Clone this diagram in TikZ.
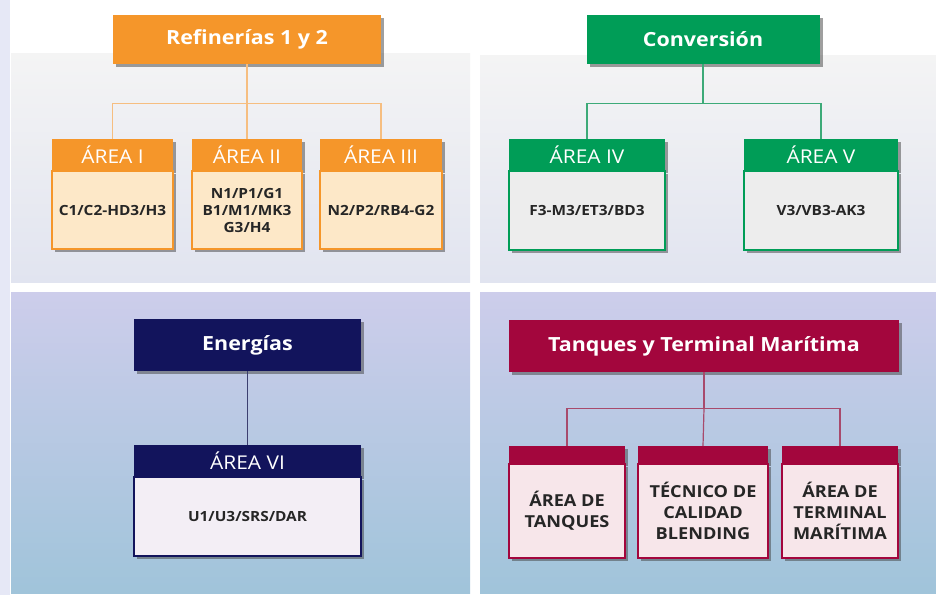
\documentclass[tikz,border=0pt]{standalone}
\usepackage{fontspec}
\setmainfont{Open Sans}[FakeStretch=1.1]
\usetikzlibrary{shadows}
\definecolor{stripfill}{HTML}{E6E8F6}
\definecolor{uppertop}{HTML}{F4F4F4}
\definecolor{upperbot}{HTML}{E1E4F0}
\definecolor{lowertop}{HTML}{CDCDEB}
\definecolor{lowerbot}{HTML}{A0C4DA}
\definecolor{refmain}{HTML}{F5962A}
\definecolor{refbody}{HTML}{FDE8C8}
\definecolor{refline}{HTML}{F6BE80}
\definecolor{convmain}{HTML}{009D57}
\definecolor{convbody}{HTML}{EDEDED}
\definecolor{convline}{HTML}{3DAA78}
\definecolor{enermain}{HTML}{12145C}
\definecolor{enerbody}{HTML}{F3EEF5}
\definecolor{enerline}{HTML}{3C3F70}
\definecolor{tanqmain}{HTML}{A3063D}
\definecolor{tanqbody}{HTML}{F7E6EA}
\definecolor{tanqline}{HTML}{A84A6C}
\definecolor{bodytext}{HTML}{262626}
\tikzset{
  boxshadow/.style={drop shadow={shadow xshift=3pt,shadow yshift=-3pt,opacity=.5,fill=black!75}},
  titlebox/.style={fill=#1, text=white, inner sep=0pt, boxshadow,
    font=\bfseries\fontsize{19.5}{22}\selectfont},
  areahead/.style={fill=#1, text=white, inner sep=0pt, minimum height=31, boxshadow,
    font=\fontsize{19}{22}\selectfont},
  areabody/.style 2 args={draw=#1, fill=#2, line width=1.5pt, inner sep=0pt, boxshadow,
    align=center, text=bodytext, font=\bfseries\fontsize{14}{17}\selectfont},
  tanqtext/.style={font=\bfseries\fontsize{16.5}{21}\selectfont},
  link/.style={draw=#1, line width=1.2pt}
}
\begin{document}
\begin{tikzpicture}[x=1pt,y=-1pt]
  \useasboundingbox (0,0) rectangle (936,595);
  % backdrop
  \fill[white] (0,0) rectangle (936,595);
  \fill[stripfill] (0,0) rectangle (10,595);
  \shade[top color=uppertop, bottom color=upperbot] (11,53) rectangle (470,282);
  \shade[top color=uppertop, bottom color=upperbot] (480,55) rectangle (936,282);
  \shade[top color=lowertop, bottom color=lowerbot] (11,292) rectangle (470,593);
  \shade[top color=lowertop, bottom color=lowerbot] (480,292) rectangle (936,593);

  % Refinerias 1 y 2
  \node[titlebox=refmain, minimum width=268, minimum height=49] (ref) at (247,39.5) {Refinerías 1 y 2};
  \node[areahead=refmain, minimum width=121, anchor=north] (a1h) at (112.5,139) {ÁREA I};
  \node[areabody={refmain}{refbody}, minimum width=121, minimum height=78, anchor=north] (a1) at (a1h.south) {C1/C2-HD3/H3};
  \node[areahead=refmain, minimum width=110, anchor=north] (a2h) at (247,139) {ÁREA II};
  \node[areabody={refmain}{refbody}, minimum width=110, minimum height=78, anchor=north] (a2) at (a2h.south) {N1/P1/G1\\B1/M1/MK3\\G3/H4};
  \node[areahead=refmain, minimum width=122, anchor=north] (a3h) at (381,139) {ÁREA III};
  \node[areabody={refmain}{refbody}, minimum width=122, minimum height=78, anchor=north] (a3) at (a3h.south) {N2/P2/RB4-G2};
  \draw[link=refline] (ref.south) -- ++(0,39) coordinate (refbus);
  \draw[link=refline] (refbus) -| (a1h.north);
  \draw[link=refline] (refbus) -- (a2h.north);
  \draw[link=refline] (refbus) -| (a3h.north);

  % Conversion
  \node[titlebox=convmain, minimum width=233, minimum height=49] (conv) at (703,39.5) {Conversión};
  \node[areahead=convmain, minimum width=156, anchor=north] (a4h) at (587,139) {ÁREA IV};
  \node[areabody={convmain}{convbody}, minimum width=156, minimum height=79, anchor=north] (a4) at (a4h.south) {F3-M3/ET3/BD3};
  \node[areahead=convmain, minimum width=154, anchor=north] (a5h) at (821,139) {ÁREA V};
  \node[areabody={convmain}{convbody}, minimum width=154, minimum height=79, anchor=north] (a5) at (a5h.south) {V3/VB3-AK3};
  \draw[link=convline] (conv.south) -- ++(0,39) coordinate (convbus);
  \draw[link=convline] (convbus) -| (a4h.north);
  \draw[link=convline] (convbus) -| (a5h.north);

  % Energias
  \node[titlebox=enermain, minimum width=227, minimum height=52] (ener) at (247.5,345) {Energías};
  \node[areahead=enermain, minimum width=227, anchor=north] (a6h) at (247.5,445) {ÁREA VI};
  \node[areabody={enermain}{enerbody}, minimum width=227, minimum height=79, anchor=north] (a6) at (a6h.south) {U1/U3/SRS/DAR};
  \draw[link=enerline] (ener.south) -- (a6h.north);

  % Tanques y Terminal Maritima
  \node[titlebox=tanqmain, minimum width=390, minimum height=52] (tanq) at (704,346) {Tanques y Terminal Marítima};
  \node[areahead=tanqmain, minimum width=116, minimum height=17, anchor=north] (t1h) at (567,446) {};
  \node[areabody={tanqmain}{tanqbody}, minimum width=116, minimum height=94, anchor=north, tanqtext] (t1) at (t1h.south) {ÁREA DE\\TANQUES};
  \node[areahead=tanqmain, minimum width=130, minimum height=17, anchor=north] (t2h) at (703,446) {};
  \node[areabody={tanqmain}{tanqbody}, minimum width=130, minimum height=94, anchor=north, tanqtext] (t2) at (t2h.south) {TÉCNICO DE\\CALIDAD\\BLENDING};
  \node[areahead=tanqmain, minimum width=116, minimum height=17, anchor=north] (t3h) at (840,446) {};
  \node[areabody={tanqmain}{tanqbody}, minimum width=116, minimum height=94, anchor=north, tanqtext] (t3) at (t3h.south) {ÁREA DE\\TERMINAL\\MARÍTIMA};
  \draw[link=tanqline] (tanq.south) -- ++(0,36) coordinate (tanqbus);
  \draw[link=tanqline] (tanqbus) -| (t1h.north);
  \draw[link=tanqline] (tanqbus) -- (t2h.north);
  \draw[link=tanqline] (tanqbus) -| (t3h.north);
\end{tikzpicture}
\end{document}
